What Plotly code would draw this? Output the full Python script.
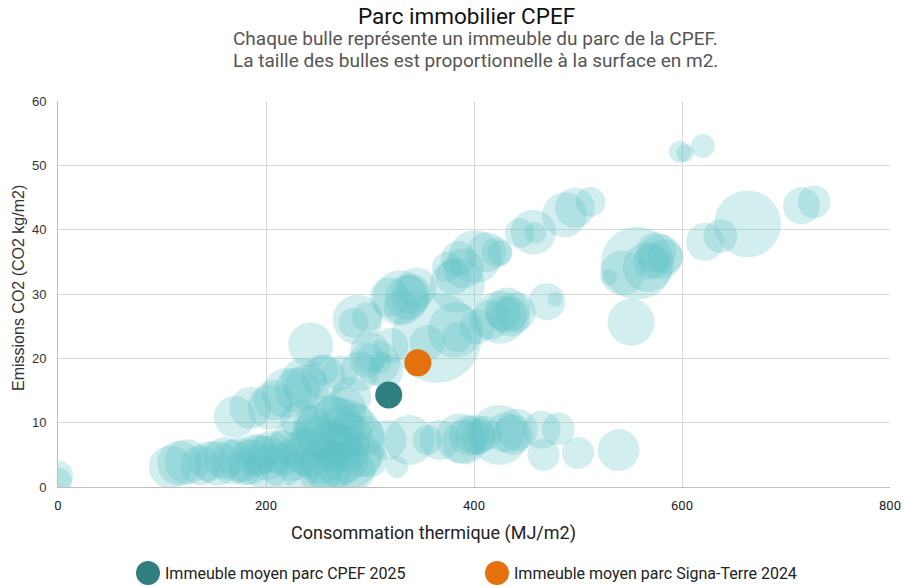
import plotly.graph_objects as go

# ---- Data ----
# Buildings: thermal consumption (MJ/m2), CO2 emissions (kg/m2), surface (m2)
conso = [598, 603, 620, 663, 715, 727, 622, 637, 557, 543, 530, 567, 579, 584, 551,
         470, 478, 457, 459, 444, 487, 497, 512, 425, 401, 412, 422, 374, 380, 384,
         329, 336, 319, 288, 297, 243,
         364, 382, 425, 432, 440, 355, 384, 403, 415, 307, 310, 297, 271, 255, 236,
         230, 207, 185, 170, 220, 239, 204, 284, 255,
         0, 0,
         108, 117, 124, 137, 153, 168, 185, 201, 216, 226, 242, 269, 262, 316, 338,
         355, 326, 300, 286, 387, 391, 401, 404, 424, 437, 441, 465, 481, 467, 500,
         539, 367, 194, 180, 233, 252, 233,
         260, 275, 280, 285, 290, 265, 250, 255, 295, 245, 275, 282,
         145, 160, 175, 190, 205, 215, 225, 235, 200,
         300, 315, 290, 320,
         340, 330, 345, 390, 385, 575, 570, 435, 428, 395, 410, 430,
         268, 272, 262, 278, 270]
emissions = [52.1, 51.9, 53.0, 40.9, 43.7, 44.3, 38.1, 39.0, 34.8, 33.3, 32.6, 34.2, 35.8, 35.8, 25.6,
             28.8, 29.2, 39.6, 39.5, 39.5, 42.3, 43.4, 44.3, 36.4, 35.8, 36.5, 36.5, 34.2, 32.6, 31.4,
             29.4, 29.5, 29.5, 26.0, 26.4, 22.1,
             23.2, 24.4, 26.4, 27.5, 27.2, 22.4, 23.3, 24.9, 26.0, 19.3, 19.4, 19.7, 17.7, 17.1, 16.6,
             15.1, 13.5, 12.3, 10.9, 14.6, 15.5, 12.4, 25.5, 18.2,
             1.8, 0.8,
             3.1, 3.7, 3.9, 3.4, 3.7, 3.9, 3.9, 4.5, 5.3, 6.8, 5.3, 6.5, 8.9, 7.3, 7.3,
             7.3, 3.1, 4.2, 2.6, 7.6, 7.0, 8.1, 7.8, 8.1, 8.1, 8.9, 8.9, 9.0, 5.0, 5.3,
             5.75, 7.3, 5.0, 3.0, 2.6, 2.6, 10.4,
             2.5, 4.5, 8.0, 10.0, 5.0, 11.0, 8.0, 4.0, 8.0, 9.5, 12.0, 14.0,
             4.0, 4.5, 4.2, 5.0, 5.5, 3.5, 4.2, 5.5, 3.0,
             21.0, 18.0, 18.0, 22.0,
             30.0, 28.0, 31.0, 34.0, 35.5, 36.5, 35.0, 26.5, 27.0, 8.0, 8.3, 8.5,
             6.0, 9.0, 7.0, 6.0, 3.5]
surfaces = [3000, 2000, 3600, 28000, 8600, 6800, 9000, 7200, 33300, 12700, 1600, 15600, 12700, 7700, 13800,
            8600, 1400, 12700, 3000, 5600, 12700, 10000, 5600, 3900, 17600, 10000, 5600, 5600, 7700, 18900,
            18900, 12700, 10000, 15600, 5600, 12700,
            50600, 18900, 17600, 12700, 10000, 7700, 5600, 7700, 10000, 12700, 3000, 7700, 7700, 12700, 12700,
            12700, 10000, 11000, 11000, 15600, 12700, 12700, 5600, 5600,
            5600, 4900,
            11600, 12700, 12700, 10000, 12700, 12700, 12700, 12700, 12700, 12700, 15600, 56400, 30600, 10000, 15600,
            5600, 3000, 7700, 10000, 15600, 12700, 10000, 7700, 22500, 10000, 11000, 9000, 6800, 6400, 6400,
            11000, 10000, 10000, 7700, 10000, 12700, 10000,
            12700, 15600, 12700, 10000, 12700, 10000, 11000, 12700, 10000, 10000, 12700, 10000,
            10000, 11000, 12700, 11000, 11000, 12700, 11000, 12700, 12700,
            10000, 7700, 10000, 7700,
            10000, 7700, 10000, 10000, 7700, 10000, 7700, 10000, 7700, 10000, 7700, 10000,
            15600, 12700, 12700, 12700, 12700]

avg_names = ["Immeuble moyen parc CPEF 2025", "Immeuble moyen parc Signa-Terre 2024"]
avg_conso = [318, 346]
avg_emissions = [14.3, 19.3]
avg_colors = ["#2f7f7e", "#e5700e"]

x_ticks = [0, 200, 400, 600, 800]
y_ticks = [0, 10, 20, 30, 40, 50, 60]

BUBBLE = "rgba(95,193,196,0.40)"
FONT_MAIN = "Roboto, 'Open Sans', sans-serif"
FONT_ARIAL = "'Liberation Sans', Arial, sans-serif"

fig = go.Figure()
fig.add_trace(go.Scatter(
    x=conso, y=emissions, mode="markers", name="Immeubles",
    marker=dict(size=surfaces, sizemode="area", sizeref=12.5,
                color=BUBBLE, line=dict(width=0)),
    showlegend=False, hoverinfo="x+y"))
for n, cx, cy, col in zip(avg_names, avg_conso, avg_emissions, avg_colors):
    fig.add_trace(go.Scatter(
        x=[cx], y=[cy], mode="markers", name=n,
        marker=dict(size=27, color=col, line=dict(width=0)),
        showlegend=False))

fig.update_layout(
    width=905, height=587,
    margin=dict(l=58, r=15, t=101, b=100),
    paper_bgcolor="white", plot_bgcolor="white",
    font=dict(family=FONT_MAIN, color="#222"),
    showlegend=False,
)
fig.update_xaxes(range=[0, 800], tickvals=x_ticks, showgrid=True, gridcolor="#d9d9d9",
                 gridwidth=1, zeroline=False, showline=True, linecolor="#bdbdbd",
                 linewidth=1, ticks="", tickfont=dict(family=FONT_MAIN, size=13, color="#222"),
                 ticklabelstandoff=6, automargin=False)
fig.update_yaxes(range=[0, 60], tickvals=y_ticks, showgrid=True, gridcolor="#d9d9d9",
                 gridwidth=1, zeroline=False, showline=True, linecolor="#bdbdbd",
                 linewidth=1, ticks="", tickfont=dict(family=FONT_ARIAL, size=13, color="#333"),
                 ticklabelstandoff=8, automargin=False)

# plot area: x 58..890, y 101..487 (pixels)
W, H = 832.0, 386.0
def px(xp):
    return (xp - 58) / W
def py(yp):
    return (487 - yp) / H

ann = [
    dict(text="Parc immobilier CPEF", x=px(466), y=py(16), font=dict(size=22.5, color="#111", family=FONT_MAIN)),
    dict(text="Chaque bulle représente un immeuble du parc de la CPEF.", x=px(475), y=py(38),
         font=dict(size=19, color="#555", family=FONT_MAIN)),
    dict(text="La taille des bulles est proportionnelle à la surface en m2.", x=px(475), y=py(60),
         font=dict(size=19, color="#555", family=FONT_MAIN)),
    dict(text="Consommation thermique (MJ/m2)", x=px(433), y=py(533),
         font=dict(size=18, color="#222", family=FONT_MAIN)),
    dict(text="Emissions CO2 (CO2 kg/m2)", x=px(18), y=py(288), textangle=-90,
         font=dict(size=16, color="#333", family=FONT_ARIAL)),
]
for a in ann:
    a.update(xref="paper", yref="paper", showarrow=False, xanchor="center", yanchor="middle")
    fig.add_annotation(**a)

# manual legend with large circles
leg_x = [148, 497]
for lx, n, col in zip(leg_x, avg_names, avg_colors):
    fig.add_shape(type="circle", xref="paper", yref="paper", xsizemode="pixel", ysizemode="pixel",
                  xanchor=px(lx), yanchor=py(573), x0=-12, x1=12, y0=-12, y1=12,
                  fillcolor=col, line=dict(width=0))
    fig.add_annotation(text=n, xref="paper", yref="paper", x=px(lx + 15), y=py(573),
                       xanchor="left", yanchor="middle", showarrow=False,
                       font=dict(size=16, color="#222", family=FONT_MAIN))

fig.write_html("out.html")
